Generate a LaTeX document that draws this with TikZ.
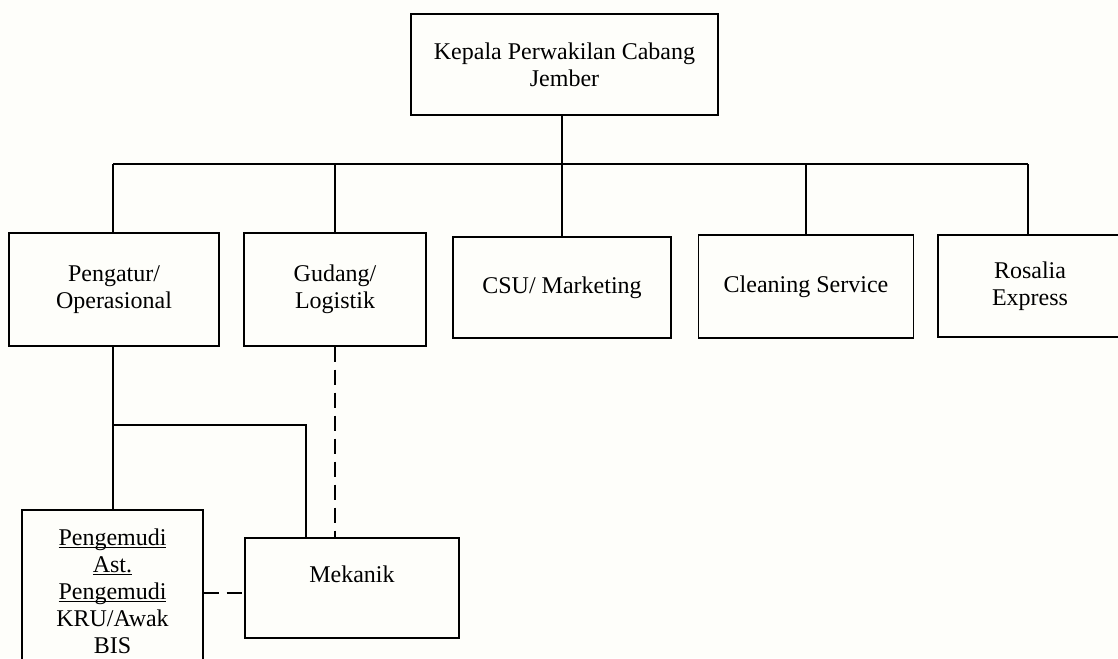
\documentclass[tikz,border=0pt]{standalone}
\usepackage{fontspec}
\setmainfont{Liberation Serif}
\definecolor{bgcream}{RGB}{254,254,250}
\newcommand\myul[1]{\setbox0\hbox{#1}\rlap{\rule[-3pt]{\wd0}{1pt}}\box0}
\begin{document}
\begin{tikzpicture}[x=1pt,y=-1pt,
  box/.style={draw=black,line width=1.4pt,inner sep=0pt,align=center,
    font=\fontsize{24}{27}\selectfont},
  link/.style={draw=black,line width=1.4pt},
  dashlink/.style={draw=black,line width=1.4pt,dash pattern=on 15pt off 8pt}]
\fill[bgcream] (0,0) rectangle (1118,658);
\useasboundingbox (0,0) rectangle (1118,658);
% nodes
\node[box,minimum width=307,minimum height=101] (top) at (564.5,64.5) {Kepala Perwakilan Cabang\\Jember};
\node[box,minimum width=210,minimum height=113] (pengatur) at (114,289.5) {Pengatur/\\Operasional};
\node[box,minimum width=182,minimum height=113] (gudang) at (335,289.5) {Gudang/\\Logistik};
\node[box,minimum width=218,minimum height=101] (csu) at (562,287.5) {CSU/ Marketing};
\node[box,minimum width=215,minimum height=103] (cleaning) at (806,286.5) {Cleaning Service};
\node[box,minimum width=184,minimum height=102] (rosalia) at (1030,286) {Rosalia\\Express};
\node[box,minimum width=181,minimum height=162] (pengemudi) at (112.5,591) {\myul{Pengemudi}\\\myul{Ast.}\\\myul{Pengemudi}\\KRU/Awak\\BIS};
\node[box,minimum width=214,minimum height=100,text height=16pt,text depth=28pt] (mekanik) at (352,588) {Mekanik};
% bus
\coordinate (busL) at (113,164);
\coordinate (busR) at (1028,164);
\draw[link,line width=1.8pt] (top.south -| csu.north) -- (csu.north);
\draw[link] (busL) -- (busR);
\draw[link] (busL) -- (busL |- pengatur.north);
\draw[link] (gudang.north |- busL) -- (gudang.north);
\draw[link] (cleaning.north |- busL) -- (cleaning.north);
\draw[link] (busR) -- (busR |- rosalia.north);
% lower part
\coordinate (junc) at (113,425);
\coordinate (mekin) at (306,538);
\draw[link] (pengatur.south -| junc) -- (junc |- pengemudi.north);
\draw[link] (junc) -| (mekin);
\draw[dashlink] (gudang.south) -- (gudang.south |- mekanik.north);
\draw[dashlink] (pengemudi.east |- 0,593) -- (mekanik.west |- 0,593);
\end{tikzpicture}
\end{document}
